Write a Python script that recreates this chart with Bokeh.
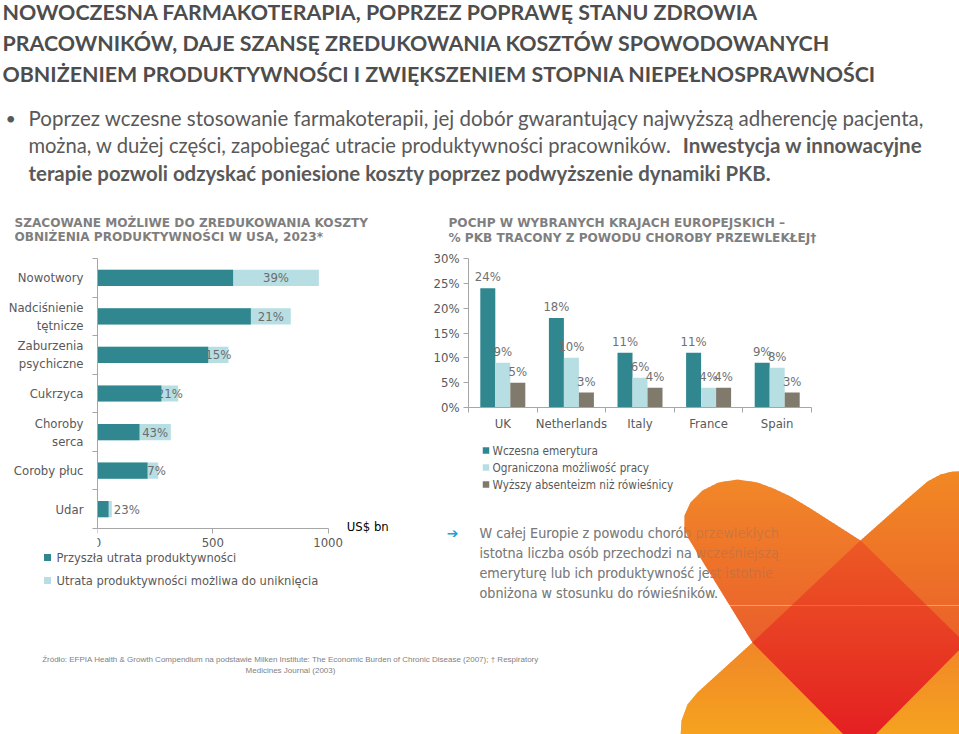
from bokeh.plotting import figure
from bokeh.models import Range1d, FixedTicker, ColumnDataSource
from bokeh.layouts import column, row
from bokeh.core.properties import value
from bokeh.transform import dodge
from bokeh.embed import file_html
from bokeh.resources import INLINE

# ------------------------------------------------------------------ data
diseases = ["Nowotwory", "Nadciśnienie\ntętnicze", "Zaburzenia\npsychiczne", "Cukrzyca",
            "Choroby\nserca", "Coroby płuc", "Udar"]
future_loss = [588, 665, 480, 277, 182, 217, 48]        # US$ bn
avoidable_loss = [372, 173, 88, 73, 136, 46, 14]        # US$ bn
avoidable_share = ["39%", "21%", "15%", "21%", "43%", "17%", "23%"]
usd_ticks = [0, 500, 1000]
usd_unit = "US$ bn"
left_series = ["Przyszła utrata produktywności", "Utrata produktywności możliwa do uniknięcia"]

countries = ["UK", "Netherlands", "Italy", "France", "Spain"]
early_retirement = [24, 18, 11, 11, 9]
limited_work = [9, 10, 6, 4, 8]
absenteeism = [5, 3, 4, 4, 3]
pct_ticks = [0, 5, 10, 15, 20, 25, 30]
right_series = ["Wczesna emerytura", "Ograniczona możliwość pracy", "Wyższy absenteizm niż rówieśnicy"]

headline = ["NOWOCZESNA FARMAKOTERAPIA, POPRZEZ POPRAWĘ STANU ZDROWIA",
            "PRACOWNIKÓW, DAJE SZANSĘ ZREDUKOWANIA KOSZTÓW SPOWODOWANYCH",
            "OBNIŻENIEM PRODUKTYWNOŚCI I ZWIĘKSZENIEM STOPNIA NIEPEŁNOSPRAWNOŚCI"]
bullet_1 = "Poprzez wczesne stosowanie farmakoterapii, jej dobór gwarantujący najwyższą adherencję pacjenta,"
bullet_2a = "można, w dużej części, zapobiegać utracie produktywności pracowników."
bullet_2b = "Inwestycja w innowacyjne"
bullet_3 = "terapie pozwoli odzyskać poniesione koszty poprzez podwyższenie dynamiki PKB."
left_title = ["SZACOWANE MOŻLIWE DO ZREDUKOWANIA KOSZTY", "OBNIŻENIA PRODUKTYWNOŚCI W USA, 2023*"]
right_title = ["POCHP W WYBRANYCH KRAJACH EUROPEJSKICH –", "% PKB TRACONY Z POWODU CHOROBY PRZEWLEKŁEJ†"]
note_lines = ["W całej Europie z powodu chorób przewlekłych",
              "istotna liczba osób przechodzi na wcześniejszą",
              "emeryturę lub ich produktywność jest istotnie",
              "obniżona w stosunku do rówieśników."]
source_lines = ["Źródło: EFPIA Health & Growth Compendium na podstawie Milken Institute: The Economic Burden of Chronic Disease (2007); † Respiratory",
                "Medicines Journal (2003)"]

# ------------------------------------------------------------------ styles
DARK = "#318790"
LIGHT = "#B7DEE3"
TAUPE = "#807A6C"
AXIS = "#A6A6A6"
BODY = "Lato"
CHART = "DejaVu Sans Condensed, DejaVu Sans"
HEAD = "DejaVu Sans"


def canvas(x0, y0, w, h):
    p = figure(width=w, height=h, x_range=Range1d(x0, x0 + w), y_range=Range1d(y0 + h, y0),
               output_backend="svg", toolbar_location=None, min_border=0,
               x_axis_location=None, y_axis_location=None, frame_align=False)
    p.grid.visible = False
    p.outline_line_color = None
    return p


def txt(p, x, y, s, size, color, font=BODY, style="normal", align="left", baseline="middle", alpha=1.0):
    p.text(x=[x], y=[y], text=[s], text_font=value(font), text_font_size=size,
           text_font_style=style, text_color=color, text_align=align, text_baseline=baseline,
           text_alpha=alpha)


def style_axis(ax, size="13px"):
    ax.axis_line_color = AXIS
    ax.major_tick_line_color = AXIS
    ax.minor_tick_line_color = AXIS
    ax.major_label_text_font = CHART
    ax.major_label_text_font_size = size
    ax.major_label_text_color = "#595959"
    ax.major_tick_in = 0
    ax.minor_tick_in = 0


# ------------------------------------------------------------------ header
T = canvas(0, 0, 959, 205)
for yc, line in zip([11, 42, 73], headline):
    txt(T, 2, yc, line, "21.4px", "#4D4D4D", style="bold")
txt(T, 5, 117, "•", "18px", "#595959")
txt(T, 28, 117, bullet_1, "20.5px", "#595959")
txt(T, 28, 144.5, bullet_2a, "20.2px", "#595959")
txt(T, 922, 144.5, bullet_2b, "20.6px", "#595959", style="bold", align="right")
txt(T, 28, 172, bullet_3, "20.4px", "#595959", style="bold")

# ------------------------------------------------------------------ left chart
LT = canvas(0, 205, 430, 45)
txt(LT, 14, 222, left_title[0], "12.1px", "#7F7F7F", font=HEAD, style="bold")
txt(LT, 14, 236.5, left_title[1], "12.1px", "#7F7F7F", font=HEAD, style="bold")

n = len(diseases)
ppu = 115.3 / 500.0          # px per US$ bn
cat_px = 270.0 / n           # px per category row
L = figure(frame_width=303, frame_height=291, min_border_left=97, min_border_right=30,
           min_border_top=8, min_border_bottom=0, frame_align=False,
           x_range=Range1d(0, 303 / ppu), y_range=Range1d(-0.5 + 291 / cat_px, -0.5),
           output_backend="svg", toolbar_location=None)
L.grid.visible = False
L.outline_line_color = None
totals = [f + a for f, a in zip(future_loss, avoidable_loss)]
ys = list(range(n))
L.hbar(y=ys, left=0, right=totals, height=0.42, fill_color=LIGHT, line_color=None)
ins = [i for i in ys if avoidable_loss[i] >= 40]
outs = [i for i in ys if avoidable_loss[i] < 40]
L.text(x=[future_loss[i] + avoidable_loss[i] / 2 for i in ins], y=ins,
       text=[avoidable_share[i] for i in ins], text_font=value(CHART), text_font_size="13px",
       text_color="#6B6B6B", text_align="center", text_baseline="middle")
L.text(x=[totals[i] for i in outs], y=outs, x_offset=2,
       text=[avoidable_share[i] for i in outs], text_font=value(CHART), text_font_size="13px",
       text_color="#6B6B6B", text_align="left", text_baseline="middle")
L.hbar(y=ys, left=0, right=future_loss, height=0.42, fill_color=DARK, line_color=None)
L.text(x=[1081], y=[n - 0.5 - 2.5 / cat_px], text=[usd_unit], text_font=value(CHART),
       text_font_size="13px", text_color="#000000", text_baseline="middle")

xa = L.xaxis[0]
style_axis(xa)
xa.ticker = FixedTicker(ticks=usd_ticks)
xa.bounds = (min(usd_ticks), max(usd_ticks))
xa.fixed_location = n - 0.5
xa.major_tick_out = 5
xa.major_label_standoff = 4
ya = L.yaxis[0]
style_axis(ya)
ya.ticker = FixedTicker(ticks=ys, minor_ticks=[i - 0.5 for i in range(n + 1)])
ya.major_label_overrides = {i: d for i, d in enumerate(diseases)}
ya.bounds = (-0.5, n - 0.5)
ya.major_tick_line_color = None
ya.minor_tick_out = 5
ya.major_label_standoff = 8

LL = canvas(0, 549, 430, 56)
for yy, name, col in zip([557, 580], left_series, [DARK, LIGHT]):
    LL.scatter(x=[47], y=[yy], marker="square", size=7, fill_color=col, line_color=None)
    txt(LL, 56, yy, name, "12.8px", "#595959", font=CHART)

# ------------------------------------------------------------------ right chart
RT = canvas(430, 205, 529, 45)
txt(RT, 448, 222, right_title[0], "12.1px", "#7F7F7F", font=HEAD, style="bold")
txt(RT, 448, 237, right_title[1], "12.1px", "#7F7F7F", font=HEAD, style="bold")

m = len(countries)
R = figure(frame_width=343, frame_height=149, min_border_left=35, min_border_right=151,
           min_border_top=8, min_border_bottom=28, frame_align=False,
           x_range=Range1d(0, m), y_range=Range1d(min(pct_ticks), max(pct_ticks)),
           output_backend="svg", toolbar_location=None)
R.grid.visible = False
R.outline_line_color = None
bw = 15 / 68.6
rsrc = ColumnDataSource(dict(x=[i + 0.5 for i in range(m)], a=early_retirement, b=limited_work,
                             c=absenteeism,
                             a_lbl=[f"{v}%" for v in early_retirement],
                             b_lbl=[f"{v}%" for v in limited_work],
                             c_lbl=[f"{v}%" for v in absenteeism]))
series = [("a", -bw, DARK), ("b", 0, LIGHT), ("c", bw, TAUPE)]
for f, off, col in series:
    R.vbar(x=dodge("x", off, range=R.x_range), top=f, width=bw, bottom=0, source=rsrc,
           fill_color=col, line_color=None)
for f, off, col in series:
    R.text(x=dodge("x", off, range=R.x_range), y=f, text=f + "_lbl", source=rsrc, y_offset=-4,
           text_font=value(CHART), text_font_size="13px", text_color="#707070",
           text_align="center", text_baseline="bottom")
rx = R.xaxis[0]
style_axis(rx)
rx.ticker = FixedTicker(ticks=[i + 0.5 for i in range(m)], minor_ticks=list(range(m + 1)))
rx.major_label_overrides = {i + 0.5: c for i, c in enumerate(countries)}
rx.major_tick_line_color = None
rx.minor_tick_out = 5
rx.major_label_standoff = 2
ry = R.yaxis[0]
style_axis(ry)
ry.ticker = FixedTicker(ticks=pct_ticks)
ry.major_label_overrides = {t: f"{t}%" for t in pct_ticks}
ry.major_tick_out = 5
ry.major_label_standoff = 4

BR = canvas(430, 435, 529, 170)
for yy, name, col in zip([450, 467, 484], right_series, [DARK, LIGHT, TAUPE]):
    BR.scatter(x=[485.5], y=[yy], marker="square", size=6.5, fill_color=col, line_color=None)
    txt(BR, 492, yy, name, "11.7px", "#595959", font=CHART)
txt(BR, 452, 532, "➔", "14px", "#1BA3D8", font="DejaVu Sans", style="bold", align="center")
note_y = [532, 552, 572, 592]
for yy, line in zip(note_y, note_lines):
    txt(BR, 479, yy, line, "14.2px", "#808080", font=CHART)

F = canvas(0, 605, 959, 129)
txt(F, 290, 659, source_lines[0], "8px", "#7F7F7F", font="Liberation Sans", align="center")
txt(F, 290, 670, source_lines[1], "8px", "#7F7F7F", font="Liberation Sans", align="center")

# ------------------------------------------------------------------ decorative cross/heart
def hex2rgb(h):
    h = h.lstrip("#")
    return [int(h[i:i + 2], 16) for i in (0, 2, 4)]


def clip_y(poly, y0, y1):
    def clip(pts, inside, yc):
        out = []
        for i in range(len(pts)):
            cur, prev = pts[i], pts[i - 1]
            def inter(a, b):
                return (a[0] + (b[0] - a[0]) * (yc - a[1]) / (b[1] - a[1]), yc)
            if inside(cur):
                if not inside(prev):
                    out.append(inter(prev, cur))
                out.append(cur)
            elif inside(prev):
                out.append(inter(prev, cur))
        return out
    pts = clip(poly, lambda p: p[1] >= y0, y0)
    if pts:
        pts = clip(pts, lambda p: p[1] <= y1, y1)
    return pts


T_ = (860, 540); R_ = (965, 643); B_ = (859, 750); L_ = (752, 642); C_ = (858, 645)
shapes = [
    ([T_, (835, 524), (810, 508), (790, 496), (773, 488), (757, 482), (737, 479), (718, 482),
      (702, 490), (690, 502), (684, 515), (684, 528), (688, 538), L_, C_], 470, 645, "#F28A28", "#EA5E2C"),
    ([T_, (905, 500), (927, 481), (940, 474), (952, 471), (990, 470), (990, 650), R_, C_], 465, 645, "#F28A24", "#EA602A"),
    ([L_, (697, 692), (687, 704), (681, 720), (679, 752), (861, 752), C_], 642, 752, "#F08628", "#F7A81E"),
    ([R_, (990, 650), (990, 752), (857, 752), C_], 642, 752, "#F08628", "#F7A81E"),
    ([T_, R_, B_, L_], 540, 750, "#EC5A24", "#E31B23"),
]
STEP = 2
sx, sy, sc = [], [], []
for poly, ytop, ybot, ctop, cbot in shapes:
    c0, c1 = hex2rgb(ctop), hex2rgb(cbot)
    ymin = int(min(p[1] for p in poly))
    ymax = int(max(p[1] for p in poly)) + 1
    for y0 in range(ymin, ymax, STEP):
        pts = clip_y(poly, y0, y0 + STEP + 1)
        if len(pts) < 3:
            continue
        t = min(1, max(0, (y0 + STEP / 2 - ytop) / (ybot - ytop)))
        rgb = [c0[k] + (c1[k] - c0[k]) * t for k in range(3)]
        sx.append([p[0] for p in pts]); sy.append([p[1] for p in pts])
        sc.append("#%02x%02x%02x" % tuple(int(round(v)) for v in rgb))
for fig in (BR, F):
    fig.patches(xs=sx, ys=sy, fill_color=sc, line_color=None)

# the note text shows faintly through the shape
for yy, line in zip(note_y, note_lines):
    txt(BR, 479, yy, line, "14.2px", "#707070", font=CHART, alpha=0.3)

# ------------------------------------------------------------------ layout
root = column(T, row(column(LT, L, LL), column(RT, R, BR)), F)
open("out.html", "w").write(file_html(root, INLINE))
